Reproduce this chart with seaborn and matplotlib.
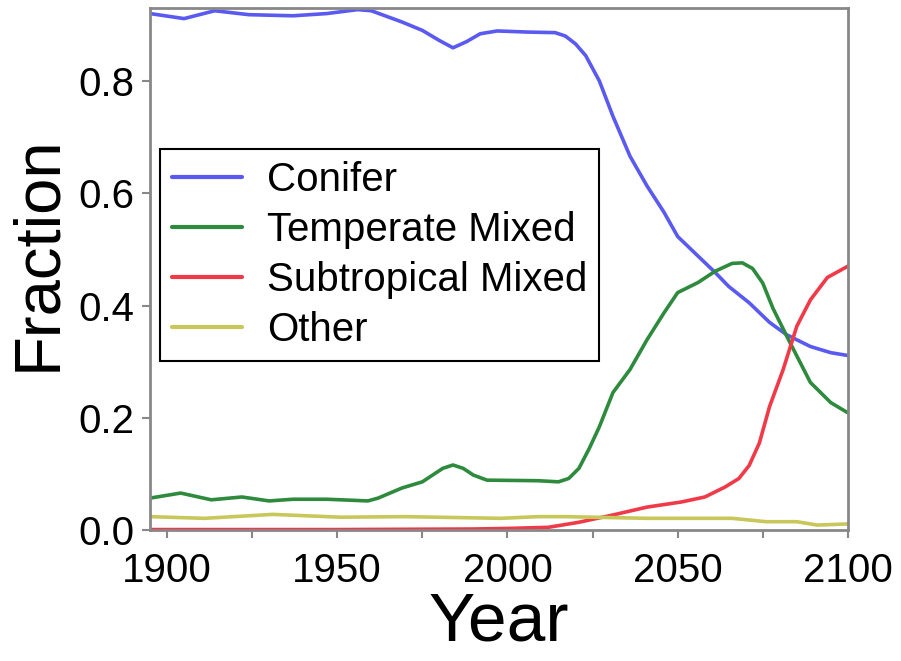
"""Fraccion de tipos de bosque 1895-2100."""

import matplotlib
import matplotlib.pyplot as plt
import pandas as pd
import seaborn as sns

matplotlib.use("Agg")

# valores
conifer_year = [1895, 1905, 1914, 1924, 1937, 1947, 1956, 1960, 1969, 1975, 1980,
                1984, 1988, 1992, 1997, 2006, 2014, 2017, 2020, 2023, 2027, 2031,
                2036, 2041, 2046, 2050, 2056, 2061, 2065, 2071, 2077, 2082, 2089,
                2095, 2100]
conifer = [0.920, 0.911, 0.925, 0.918, 0.916, 0.920, 0.927, 0.925, 0.905, 0.890,
           0.872, 0.859, 0.870, 0.884, 0.889, 0.887, 0.886, 0.880, 0.866, 0.845,
           0.800, 0.737, 0.666, 0.613, 0.566, 0.523, 0.488, 0.459, 0.434, 0.405,
           0.370, 0.348, 0.327, 0.316, 0.311]

temperate_year = [1895, 1904, 1913, 1922, 1930, 1937, 1947, 1959, 1962, 1969,
                  1975, 1981, 1984, 1987, 1990, 1994, 2009, 2015, 2018, 2021,
                  2024, 2027, 2031, 2036, 2041, 2046, 2050, 2056, 2061, 2066,
                  2069, 2072, 2075, 2078, 2083, 2089, 2095, 2100]
temperate = [0.057, 0.066, 0.054, 0.059, 0.052, 0.055, 0.055, 0.052, 0.057, 0.075,
             0.086, 0.110, 0.116, 0.110, 0.098, 0.089, 0.088, 0.086, 0.092, 0.110,
             0.145, 0.184, 0.245, 0.286, 0.339, 0.387, 0.423, 0.441, 0.461, 0.475,
             0.476, 0.466, 0.440, 0.395, 0.334, 0.263, 0.227, 0.209]

subtropical_year = [1895, 1950, 1990, 2000, 2012, 2021, 2031, 2041, 2051, 2058,
                    2064, 2068, 2071, 2074, 2077, 2081, 2085, 2089, 2094, 2100]
subtropical = [0.001, 0.001, 0.002, 0.003, 0.005, 0.014, 0.027, 0.041, 0.050, 0.059,
               0.077, 0.092, 0.115, 0.155, 0.220, 0.286, 0.363, 0.410, 0.450, 0.470]

other_year = [1895, 1911, 1931, 1951, 1970, 1998, 2009, 2017, 2041, 2066, 2076,
              2085, 2091, 2100]
other = [0.024, 0.021, 0.028, 0.023, 0.024, 0.021, 0.024, 0.024, 0.021, 0.021,
         0.015, 0.015, 0.009, 0.011]

labels = ["Conifer", "Temperate Mixed", "Subtropical Mixed", "Other"]
colors = ["#5a5af0", "#2e8b3e", "#f03a48", "#c8c85a"]

series = [(conifer_year, conifer), (temperate_year, temperate),
          (subtropical_year, subtropical), (other_year, other)]
df = pd.concat(
    [pd.DataFrame({"Year": yr, "Fraction": val, "Type": lab})
     for (yr, val), lab in zip(series, labels)],
    ignore_index=True,
)

sns.set_style("ticks")
plt.rcParams["font.family"] = ["Liberation Sans", "DejaVu Sans"]
plt.rcParams["text.color"] = "black"

fig = plt.figure(figsize=(9.01, 6.61), dpi=100)
ax = fig.add_axes([0.1665, 0.198, 0.7745, 0.79])
sns.lineplot(data=df, x="Year", y="Fraction", hue="Type", hue_order=labels,
             palette=colors, linewidth=2.6, ax=ax)

ax.set_xlim(1895, 2100)
ax.set_ylim(0, 0.93)
ax.set_xticks([1900, 1950, 2000, 2050, 2100])
ax.set_xticks([1925, 1975, 2025, 2075], minor=True)
ax.set_yticks([0.0, 0.2, 0.4, 0.6, 0.8])
ax.set_yticklabels(["0.0", "0.2", "0.4", "0.6", "0.8"])
ax.tick_params(axis="both", which="both", direction="out", length=6, width=1.5,
               color="#888888", labelsize=29, labelcolor="black")
ax.tick_params(axis="x", which="both", pad=10)
ax.tick_params(axis="y", which="both", pad=5)
for sp in ax.spines.values():
    sp.set_color("#888888")
    sp.set_linewidth(2)
ax.set_xlabel("Year", fontsize=50, labelpad=0, color="black")
ax.set_ylabel("Fraction", fontsize=47, color="black")
ax.yaxis.set_label_coords(-0.117, 0.53)

leg = ax.legend(loc="upper left", bbox_to_anchor=(0.014, 0.73), borderaxespad=0,
                fontsize=29, frameon=True, fancybox=False, edgecolor="black",
                handlelength=1.74, handletextpad=0.62, labelspacing=0.3,
                borderpad=0.3)
leg.get_frame().set_linewidth(1.5)
leg.get_frame().set_alpha(1)
for h in leg.get_lines():
    h.set_linewidth(3)

plt.savefig("out.png", dpi=100)
plt.close()
